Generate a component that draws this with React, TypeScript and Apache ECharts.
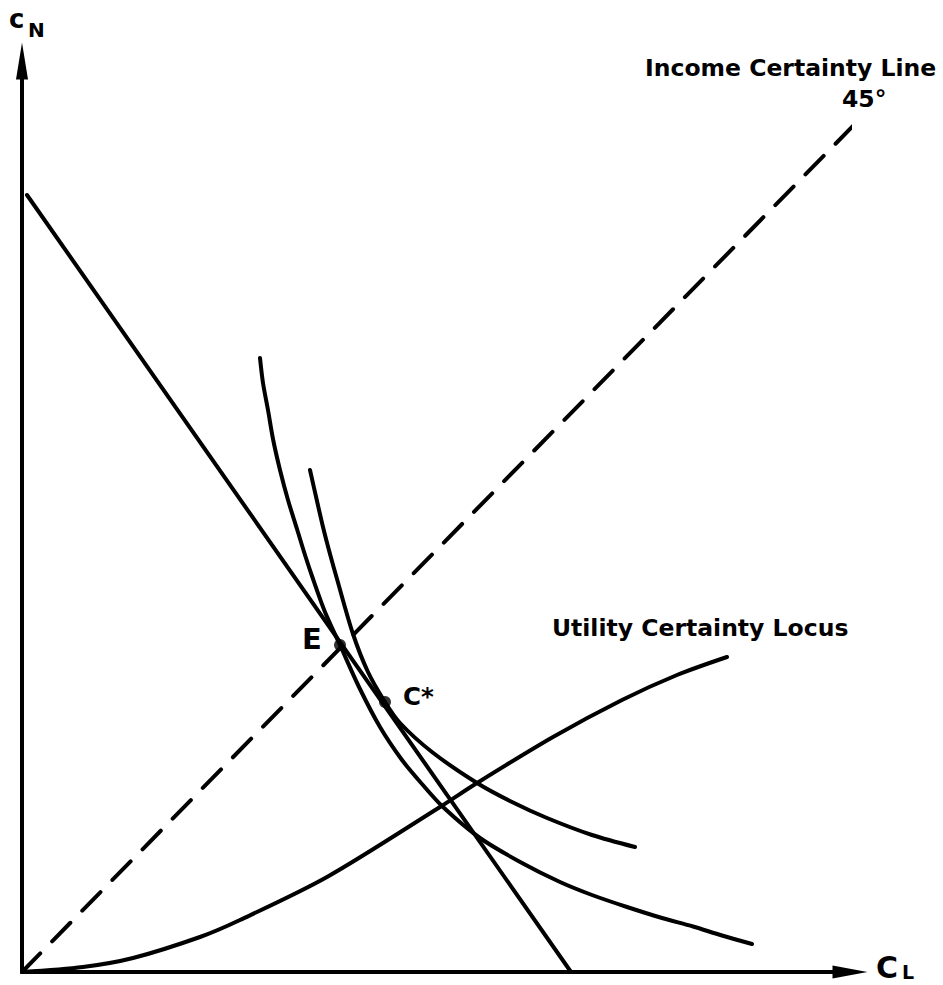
import React, { useEffect, useRef } from "react";
import * as echarts from "echarts";

// Values (data units)
const budgetLine: number[][] = [[5, 777], [549, 0]];
const incomeCertaintyLine: number[][] = [[0, 0], [831, 846]];
const indifferenceOuter: number[][] = [
  [238, 614], [241, 589], [246, 562], [251, 533], [258, 502], [266, 472],
  [275, 443], [283, 417], [290, 396], [303, 360], [318, 327], [337, 285],
  [358, 245], [380, 212], [400, 188], [421, 165], [458, 134], [500, 109],
  [538, 90], [570, 77], [605, 65], [640, 54], [671, 45.5], [700, 36.5],
  [730, 28],
];
const indifferenceInner: number[][] = [
  [288, 502], [295, 471], [301, 445], [308, 418], [315, 393], [331, 338],
  [346, 300], [363, 270], [378, 249], [410, 220], [455, 189], [490, 170],
  [525, 154], [570, 137], [613, 125],
];
const utilityCertaintyLocus: number[][] = [
  [0, 0], [61, 5], [111, 14], [178, 35], [218, 52], [305, 95], [418, 165],
  [455, 189], [531, 235], [600, 272], [655, 297], [705, 315],
];
const pointE: number[] = [318, 327];
const pointCStar: number[] = [363, 270];
const xMax = 828;
const yMax = 911;

const FONT = "'DejaVu Sans', sans-serif";

function lineSeries(data: number[][], extra: any = {}) {
  return {
    type: "line",
    data,
    symbol: "none",
    showSymbol: false,
    clip: false,
    silent: true,
    lineStyle: { color: "#000", width: 4, cap: "round", join: "round" },
    ...extra,
  };
}

function txt(text: string, x: number, y: number, fontSize: number, extra: any = {}) {
  return {
    type: "text",
    x,
    y,
    z: 100,
    style: {
      text,
      fill: "#000",
      fontSize,
      fontWeight: "bold",
      fontFamily: FONT,
      align: "left",
      verticalAlign: "middle",
    },
    ...extra,
  };
}

export default function App() {
  const ref = useRef<HTMLDivElement>(null);
  useEffect(() => {
    if (!ref.current) return;
    const chart = echarts.init(ref.current, null, { renderer: "svg" });
    const axisCommon = {
      type: "value",
      min: 0,
      axisTick: { show: false },
      axisLabel: { show: false },
      splitLine: { show: false },
    };
    chart.setOption({
      animation: false,
      backgroundColor: "#fff",
      grid: { left: 22, right: 93, top: 61, bottom: 13 },
      xAxis: {
        ...axisCommon,
        max: xMax,
        axisLine: {
          show: true,
          symbol: ["none", "triangle"],
          symbolSize: [13, 35],
          lineStyle: { color: "#000", width: 4 },
        },
      },
      yAxis: {
        ...axisCommon,
        max: yMax,
        axisLine: {
          show: true,
          symbol: ["none", "triangle"],
          symbolSize: [12, 37],
          lineStyle: { color: "#000", width: 4 },
        },
      },
      series: [
        lineSeries(budgetLine),
        lineSeries(incomeCertaintyLine, {
          lineStyle: { color: "#000", width: 4, type: [26, 17], cap: "round" },
        }),
        lineSeries(indifferenceOuter, { smooth: 0.3 }),
        lineSeries(indifferenceInner, { smooth: 0.3 }),
        lineSeries(utilityCertaintyLocus, { smooth: 0.3 }),
        {
          type: "scatter",
          data: [pointE, pointCStar],
          symbol: "circle",
          symbolSize: 12,
          itemStyle: { color: "#000" },
          silent: true,
          z: 10,
        },
      ],
      graphic: [
        txt("c", 9, 19, 26),
        txt("N", 28, 29.5, 20),
        txt("C", 876, 967, 30),
        txt("L", 902, 972, 19),
        txt("Income Certainty Line", 645, 67.5, 23.5),
        txt("45°", 842, 99, 23.5),
        txt("Utility Certainty Locus", 552, 627.5, 23.5),
        txt("E", 302, 639, 29),
        txt("C*", 403, 696, 24.5),
      ],
    });
    return () => chart.dispose();
  }, []);
  return (
    <div
      ref={ref}
      style={{ position: "absolute", left: 0, top: 0, width: 943, height: 985, background: "#fff" }}
    />
  );
}
